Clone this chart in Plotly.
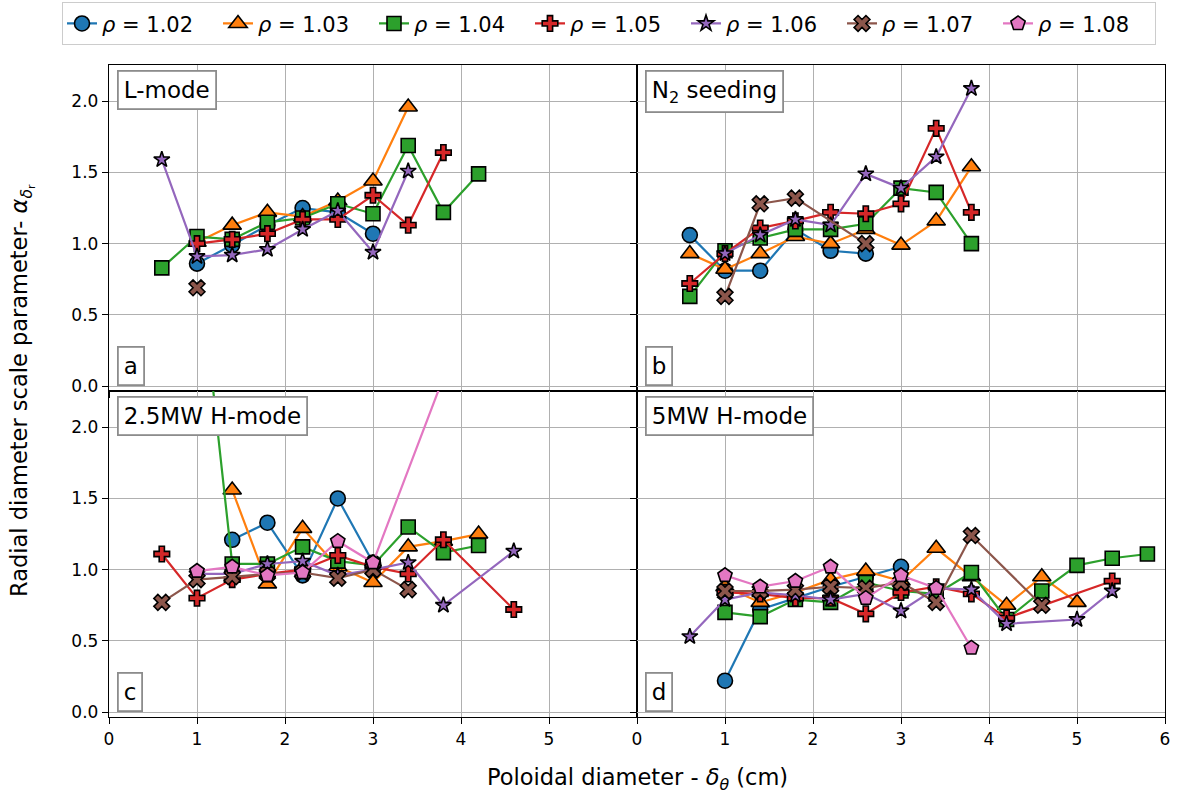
import plotly.graph_objects as go
from plotly.subplots import make_subplots

# Poloidal diameter grid (cm); None marks a missing measurement
DELTA_THETA = [0.6, 1.0, 1.4, 1.8, 2.2, 2.6, 3.0, 3.4, 3.8, 4.2, 4.6, 5.0, 5.4, 5.8]
N = None

RHO = ["1.02", "1.03", "1.04", "1.05", "1.06", "1.07", "1.08"]
COLORS = ["#1f77b4", "#ff7f0e", "#2ca02c", "#d62728", "#9467bd", "#8c564b", "#e377c2"]
SYMBOLS = ["circle", "triangle-up", "square", "cross", "star", "x", "pentagon"]
SIZES = [15, 16, 14, 13, 12, 14, 15]

# (a) L-mode
LMODE_102 = [N, 0.86, 0.99, 1.13, 1.25, 1.22, 1.07, N, N, N, N, N, N, N]
LMODE_103 = [N, 1.01, 1.13, 1.22, 1.19, 1.30, 1.44, 1.96, N, N, N, N, N, N]
LMODE_104 = [0.83, 1.05, 1.03, 1.15, 1.18, 1.28, 1.21, 1.69, 1.22, 1.49, N, N, N, N]
LMODE_105 = [N, 1.00, 1.03, 1.07, 1.17, 1.17, 1.34, 1.13, 1.64, N, N, N, N, N]
LMODE_106 = [1.59, 0.91, 0.92, 0.96, 1.10, 1.23, 0.94, 1.51, N, N, N, N, N, N]
LMODE_107 = [N, 0.69, N, N, N, N, N, N, N, N, N, N, N, N]
LMODE_108 = [N] * 14

# (b) N2 seeding
SEED_102 = [1.06, 0.81, 0.81, 1.10, 0.95, 0.93, N, N, N, N, N, N, N, N]
SEED_103 = [0.93, 0.82, 0.93, 1.05, 1.00, 1.10, 0.99, 1.16, 1.54, N, N, N, N, N]
SEED_104 = [0.63, 0.95, 1.04, 1.10, 1.10, 1.14, 1.39, 1.36, 1.00, N, N, N, N, N]
SEED_105 = [0.72, 0.93, 1.11, 1.16, 1.22, 1.21, 1.28, 1.81, 1.22, N, N, N, N, N]
SEED_106 = [N, 0.93, 1.06, 1.17, 1.13, 1.49, 1.39, 1.61, 2.09, N, N, N, N, N]
SEED_107 = [N, 0.63, 1.28, 1.32, N, 1.00, N, N, N, N, N, N, N, N]
SEED_108 = [N] * 14

# (c) 2.5MW H-mode
H25_102 = [N, N, 1.21, 1.33, 0.96, 1.50, 1.05, N, N, N, N, N, N, N]
H25_103 = [N, N, 1.56, 0.90, 1.29, 1.02, 0.91, 1.16, 1.20, 1.25, N, N, N, N]
H25_104 = [N, 3.30, 1.04, 1.04, 1.16, 1.06, 1.03, 1.30, 1.12, 1.17, N, N, N, N]
H25_105 = [1.11, 0.80, 0.93, 0.97, 1.00, 1.10, 1.02, 0.97, 1.21, N, 0.72, N, N, N]
H25_106 = [N, 0.97, 0.97, 1.04, 1.06, 0.96, 1.00, 1.05, 0.75, N, 1.13, N, N, N]
H25_107 = [0.77, 0.93, 0.95, 0.97, 0.98, 0.94, 1.00, 0.86, N, N, N, N, N, N]
H25_108 = [N, 0.99, 1.02, 0.96, 0.98, 1.20, 1.05, N, N, 3.00, N, N, N, N]

# (d) 5MW H-mode
H5_102 = [N, 0.22, 0.72, 0.80, 0.88, 0.95, 1.02, N, N, N, N, N, N, N]
H5_103 = [N, 0.88, 0.77, 0.84, 0.93, 0.99, 0.92, 1.15, 0.95, 0.75, 0.95, 0.77, N, N]
H5_104 = [N, 0.70, 0.67, 0.79, 0.77, 0.91, 0.85, 0.83, 0.98, 0.65, 0.85, 1.03, 1.08, 1.11]
H5_105 = [N, 0.84, 0.83, 0.80, 0.80, 0.69, 0.84, 0.88, 0.83, 0.66, N, N, 0.92, N]
H5_106 = [0.53, 0.79, 0.84, 0.82, 0.79, 0.83, 0.71, 0.87, 0.86, 0.62, N, 0.65, 0.85, N]
H5_107 = [N, 0.85, 0.85, 0.86, 0.88, 0.87, 0.91, 0.77, 1.24, N, 0.75, N, N, N]
H5_108 = [N, 0.96, 0.88, 0.92, 1.02, 0.80, 0.96, 0.87, 0.45, N, N, N, N, N]

PANELS = [
    (1, 1, "L-mode", "a", [LMODE_102, LMODE_103, LMODE_104, LMODE_105, LMODE_106, LMODE_107, LMODE_108]),
    (1, 2, "N<sub>2</sub> seeding", "b", [SEED_102, SEED_103, SEED_104, SEED_105, SEED_106, SEED_107, SEED_108]),
    (2, 1, "2.5MW H-mode", "c", [H25_102, H25_103, H25_104, H25_105, H25_106, H25_107, H25_108]),
    (2, 2, "5MW H-mode", "d", [H5_102, H5_103, H5_104, H5_105, H5_106, H5_107, H5_108]),
]

FONT = "DejaVu Sans"
W, H = 1197, 794
ML, MR, MT, MB = 109, 32, 65, 77
PLOT_W, PLOT_H = W - ML - MR, H - MT - MB

fig = make_subplots(rows=2, cols=2, horizontal_spacing=0, vertical_spacing=0)

shown = set()
for row, col, title, letter, series in PANELS:
    for i, ys in enumerate(series):
        if all(v is None for v in ys):
            continue
        fig.add_trace(
            go.Scatter(
                x=DELTA_THETA, y=ys, mode="lines+markers", connectgaps=True,
                name=f"<i>ρ</i> = {RHO[i]}", legendgroup=RHO[i], legendrank=i + 1,
                showlegend=RHO[i] not in shown,
                line=dict(color=COLORS[i], width=2.2),
                marker=dict(symbol=SYMBOLS[i], size=SIZES[i], color=COLORS[i],
                            line=dict(color="black", width=1.6)),
                cliponaxis=True,
            ),
            row=row, col=col,
        )
        shown.add(RHO[i])

    idx = (row - 1) * 2 + col
    xref = "x domain" if idx == 1 else f"x{idx} domain"
    yref = "y domain" if idx == 1 else f"y{idx} domain"
    box = dict(bgcolor="white", bordercolor="#8c8c8c", borderwidth=1.8, borderpad=5,
               font=dict(family=FONT, size=23, color="black"), showarrow=False)
    fig.add_annotation(text=title, xref=xref, yref=yref, x=0.015, y=0.985,
                       xanchor="left", yanchor="top", **box)
    fig.add_annotation(text=letter, xref=xref, yref=yref, x=0.015, y=0.015,
                       xanchor="left", yanchor="bottom", **box)

axis_common = dict(
    showline=True, linecolor="black", linewidth=1.4, mirror=True,
    showgrid=True, gridcolor="#b0b0b0", gridwidth=1.3,
    ticks="outside", ticklen=6, tickwidth=1.3, tickcolor="black",
    tickfont=dict(family=FONT, size=17, color="black"), zeroline=False,
)
for row in (1, 2):
    for col in (1, 2):
        fig.update_xaxes(
            range=[0, 6], tickvals=[0, 1, 2, 3, 4, 5] if col == 1 else [0, 1, 2, 3, 4, 5, 6],
            showticklabels=(row == 2), row=row, col=col, **axis_common)
        fig.update_yaxes(
            range=[-0.035, 2.255], tickvals=[0, 0.5, 1.0, 1.5, 2.0], tickformat=".1f",
            showticklabels=(col == 1), row=row, col=col, **axis_common)

# Shared axis titles
fig.add_annotation(
    text="Radial diameter scale parameter- <i>α</i><sub><i>δ</i><sub>r</sub></sub>",
    xref="paper", yref="paper", x=0, y=0.5, xshift=-87, textangle=-90,
    xanchor="center", yanchor="middle", showarrow=False,
    font=dict(family=FONT, size=22.5, color="black"))
fig.add_annotation(
    text="Poloidal diameter - <i>δ</i><sub><i>θ</i></sub> (cm)",
    xref="paper", yref="paper", x=0.5, y=0, yshift=-45,
    xanchor="center", yanchor="top", showarrow=False,
    font=dict(family=FONT, size=22.5, color="black"))

fig.update_layout(
    width=W, height=H, margin=dict(l=ML, r=MR, t=MT, b=MB, autoexpand=False),
    paper_bgcolor="white", plot_bgcolor="white",
    font=dict(family=FONT, color="black"),
    legend=dict(orientation="h", x=(62 - ML) / PLOT_W, xanchor="left",
                y=1 + (MT - 2) / PLOT_H, yanchor="top",
                bordercolor="#cccccc", borderwidth=1.3, bgcolor="white",
                font=dict(family=FONT, size=21), entrywidth=111, entrywidthmode="pixels",
                itemwidth=30, tracegroupgap=0),
)

fig.write_html("out.html")
